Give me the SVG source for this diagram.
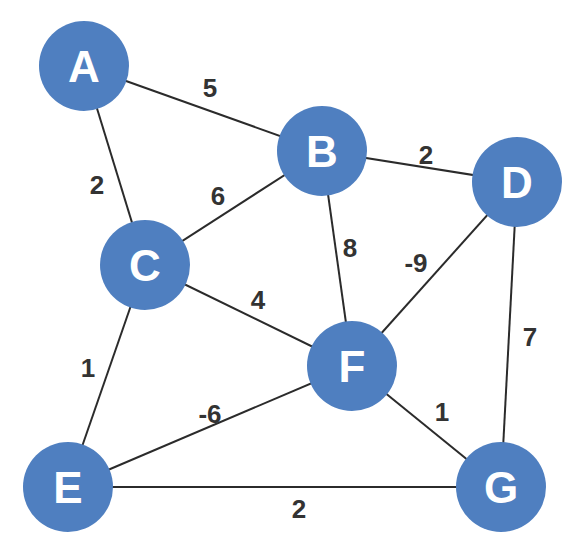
<svg xmlns="http://www.w3.org/2000/svg" width="577" height="550" viewBox="0 0 577 550">
<style>
.edge{stroke:#2b2b2b;stroke-width:2;fill:none}
.node circle{fill:#4f7fc0}
.node text{fill:#fff;font-family:"Liberation Sans",Arial,sans-serif;font-weight:bold;font-size:44px;text-anchor:middle}
.lbl{fill:#333;font-family:"Liberation Sans",Arial,sans-serif;font-weight:bold;font-size:26px;text-anchor:middle}
</style>
<rect width="577" height="550" fill="#fff"/>
<g id="connectors">
<line class="edge" x1="84" y1="66" x2="322" y2="151"/>
<line class="edge" x1="84" y1="66" x2="145" y2="265"/>
<line class="edge" x1="322" y1="151" x2="145" y2="265"/>
<line class="edge" x1="322" y1="151" x2="517" y2="182"/>
<line class="edge" x1="322" y1="151" x2="352" y2="366"/>
<line class="edge" x1="145" y1="265" x2="352" y2="366"/>
<line class="edge" x1="145" y1="265" x2="68" y2="487"/>
<line class="edge" x1="517" y1="182" x2="352" y2="366"/>
<line class="edge" x1="517" y1="182" x2="501" y2="487"/>
<line class="edge" x1="352" y1="366" x2="68" y2="487"/>
<line class="edge" x1="352" y1="366" x2="501" y2="487"/>
<line class="edge" x1="68" y1="487" x2="501" y2="487"/>
<text class="lbl" x="210" y="97">5</text>
<text class="lbl" x="97" y="194">2</text>
<text class="lbl" x="218" y="205">6</text>
<text class="lbl" x="426" y="164">2</text>
<text class="lbl" x="350" y="257">8</text>
<text class="lbl" x="416" y="272">-9</text>
<text class="lbl" x="258" y="309">4</text>
<text class="lbl" x="88" y="377">1</text>
<text class="lbl" x="530" y="346">7</text>
<text class="lbl" x="210" y="423">-6</text>
<text class="lbl" x="442" y="421">1</text>
<text class="lbl" x="299" y="518">2</text>
</g>
<g id="A" class="node"><circle cx="84" cy="66" r="45"/><text x="84" y="82">A</text></g>
<g id="B" class="node"><circle cx="322" cy="151" r="45"/><text x="322" y="167">B</text></g>
<g id="C" class="node"><circle cx="145" cy="265" r="45"/><text x="145" y="281">C</text></g>
<g id="D" class="node"><circle cx="517" cy="182" r="45"/><text x="517" y="198">D</text></g>
<g id="F" class="node"><circle cx="352" cy="366" r="45"/><text x="352" y="382">F</text></g>
<g id="E" class="node"><circle cx="68" cy="487" r="45"/><text x="68" y="503">E</text></g>
<g id="G" class="node"><circle cx="501" cy="487" r="45"/><text x="501" y="503">G</text></g>
</svg>
